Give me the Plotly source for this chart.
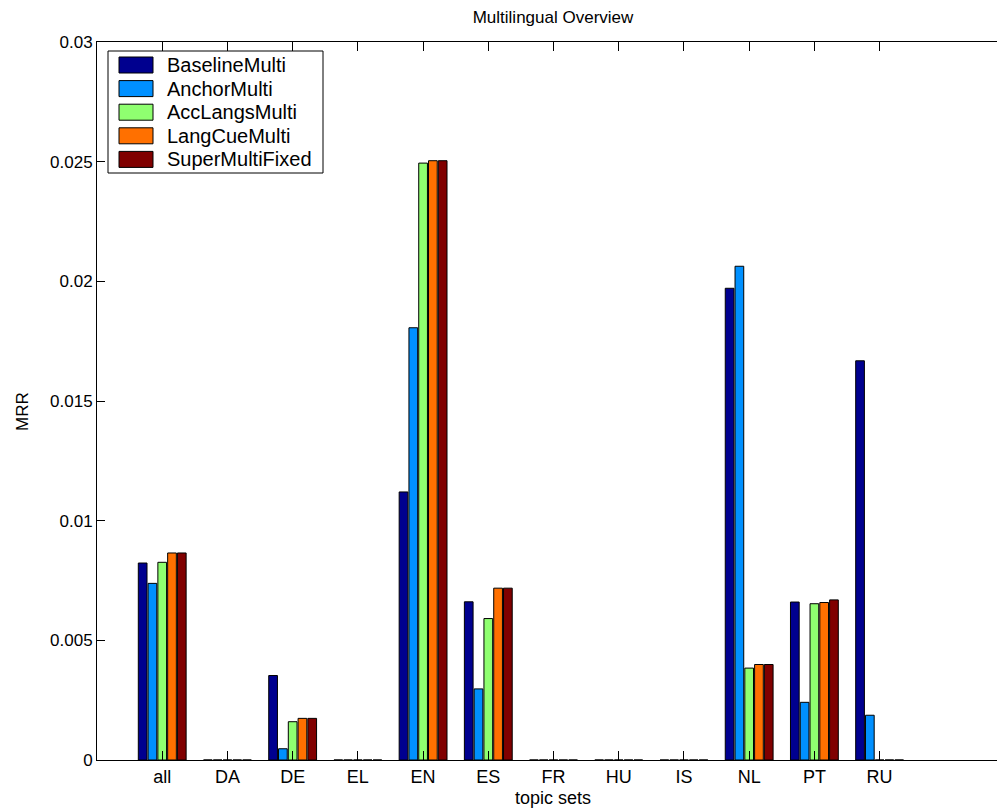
import plotly.graph_objects as go

categories = ["all", "DA", "DE", "EL", "EN", "ES", "FR", "HU", "IS", "NL", "PT", "RU"]
series_names = ["BaselineMulti", "AnchorMulti", "AccLangsMulti", "LangCueMulti", "SuperMultiFixed"]

baseline_multi = [0.00823, 0, 0.00353, 0, 0.0112, 0.00661, 0, 0, 0, 0.01971, 0.00660, 0.01668]
anchor_multi = [0.00738, 0, 0.00047, 0, 0.01806, 0.00297, 0, 0, 0, 0.02063, 0.00241, 0.00187]
acclangs_multi = [0.00826, 0, 0.00160, 0, 0.02494, 0.00591, 0, 0, 0, 0.00384, 0.00653, 0]
langcue_multi = [0.00865, 0, 0.00174, 0, 0.02504, 0.00718, 0, 0, 0, 0.00399, 0.00658, 0]
supermulti_fixed = [0.00865, 0, 0.00174, 0, 0.02504, 0.00718, 0, 0, 0, 0.00399, 0.00669, 0]

y_tickvals = [0, 0.005, 0.01, 0.015, 0.02, 0.025, 0.03]
y_ticktext = ["0", "0.005", "0.01", "0.015", "0.02", "0.025", "0.03"]

colors = ["#00008F", "#0090FF", "#8FFF70", "#FF7000", "#800000"]
series_values = [baseline_multi, anchor_multi, acclangs_multi, langcue_multi, supermulti_fixed]

FONT = "Liberation Sans, Arial, Helvetica, sans-serif"

W, H = 997, 812
L, R, T, B = 97, 0, 42, 52
PW, PH = W - L - R, H - T - B

fig = go.Figure()
for name, vals, col in zip(series_names, series_values, colors):
    fig.add_trace(go.Bar(
        x=categories, y=vals, name=name,
        marker=dict(color=col, line=dict(color="black", width=1)),
        showlegend=False,
    ))

def px_x(p):
    return (p - L) / PW

def px_y(p):
    return (H - B - p) / PH

# custom legend (MATLAB-style)
shapes = [dict(type="rect", xref="paper", yref="paper",
               x0=px_x(108), x1=px_x(323), y0=px_y(173), y1=px_y(51),
               line=dict(color="black", width=1), fillcolor="white", layer="above")]
annotations = []
row0, step = 65.0, 23.6
for i, (name, col) in enumerate(zip(series_names, colors)):
    cy = row0 + i * step
    shapes.append(dict(type="rect", xref="paper", yref="paper",
                       x0=px_x(119), x1=px_x(153), y0=px_y(cy + 8), y1=px_y(cy - 8),
                       line=dict(color="black", width=1), fillcolor=col, layer="above"))
    annotations.append(dict(text=name, xref="paper", yref="paper",
                            x=px_x(165), y=px_y(cy), xanchor="left", yanchor="middle",
                            showarrow=False, font=dict(family=FONT, size=20, color="black")))

annotations.append(dict(text="topic sets", xref="paper", yref="paper",
                        x=px_x(553), y=px_y(798), xanchor="center", yanchor="middle",
                        showarrow=False, borderpad=0,
                        font=dict(family=FONT, size=18, color="black")))
annotations.append(dict(text="MRR", xref="paper", yref="paper",
                        x=px_x(22), y=px_y(412), xanchor="center", yanchor="middle",
                        textangle=-90, showarrow=False,
                        font=dict(family=FONT, size=17, color="black")))

fig.update_layout(
    width=W, height=H,
    margin=dict(l=L, r=R, t=T, b=B),
    paper_bgcolor="white", plot_bgcolor="white",
    barmode="group", bargap=0.25, bargroupgap=0.11,
    title=dict(text="Multilingual Overview", x=553 / W, xanchor="center",
               y=1 - 17 / H, yanchor="middle",
               font=dict(family=FONT, size=17, color="black")),
    font=dict(family=FONT, size=17, color="black"),
    shapes=shapes, annotations=annotations,
    xaxis=dict(type="category", range=[-1.0, 12.8],
               showline=True, linecolor="black", linewidth=1, mirror="ticks",
               ticks="inside", ticklen=9, tickcolor="black", tickwidth=1,
               showgrid=False, zeroline=False,
               tickfont=dict(family=FONT, size=18, color="black")),
    yaxis=dict(range=[0, 0.03], tickvals=y_tickvals, ticktext=y_ticktext,
               showline=True, linecolor="black", linewidth=1,
               ticks="inside", ticklen=8, tickcolor="black", tickwidth=1,
               showgrid=False, zeroline=False,
               tickfont=dict(family=FONT, size=17, color="black")),
)

fig.write_html(
    "out.html",
    config={"displayModeBar": False},
    post_script="document.body.style.margin='0';document.body.style.overflow='hidden';",
)
